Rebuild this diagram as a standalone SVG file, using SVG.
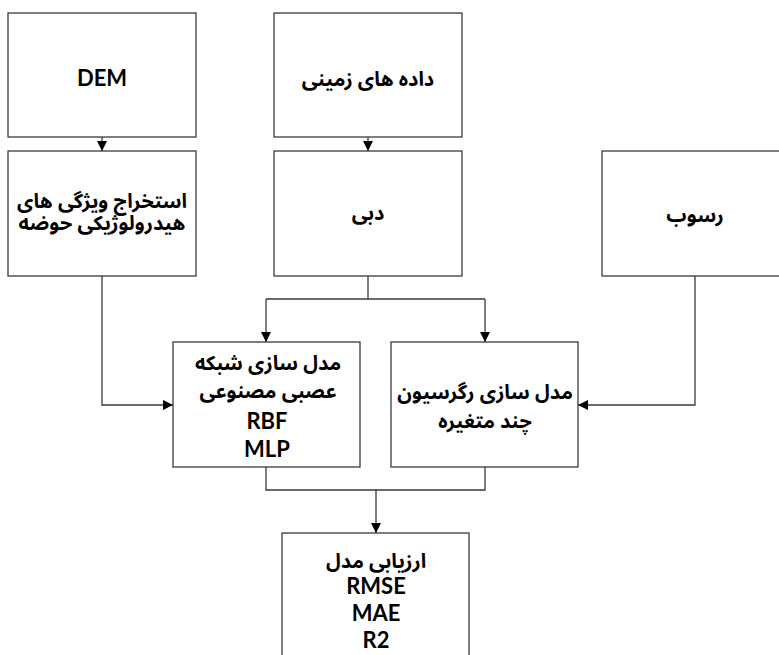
<svg xmlns="http://www.w3.org/2000/svg" width="779" height="655" viewBox="0 0 779 655">
<style>
.box{fill:#fff;stroke:#3a3a3a;stroke-width:1.3}
.ln{fill:none;stroke:#3a3a3a;stroke-width:1.3}
.fa{font-family:"Noto Sans Arabic","Noto Naskh Arabic","DejaVu Sans",sans-serif;font-weight:bold;font-size:20px;fill:#000;text-anchor:middle;dominant-baseline:central}
.en{font-family:Lato,"Open Sans",sans-serif;font-weight:bold;font-size:22px;fill:#000;text-anchor:middle;dominant-baseline:central}
</style>
<defs>
<marker id="ah" viewBox="0 0 10 10" refX="10" refY="5" markerWidth="10" markerHeight="10" markerUnits="userSpaceOnUse" orient="auto">
<path d="M0,0 L10,5 L0,10 z" fill="#000"/>
</marker>
</defs>
<g id="connectors">
<line class="ln" x1="102" y1="137" x2="102" y2="151" marker-end="url(#ah)"/>
<line class="ln" x1="368" y1="137" x2="368" y2="151" marker-end="url(#ah)"/>
<polyline class="ln" points="368,276 368,299"/>
<line class="ln" x1="266" y1="299" x2="485" y2="299"/>
<line class="ln" x1="266" y1="299" x2="266" y2="342" marker-end="url(#ah)"/>
<line class="ln" x1="485" y1="299" x2="485" y2="342" marker-end="url(#ah)"/>
<polyline class="ln" points="102,276 102,405 173,405" marker-end="url(#ah)"/>
<polyline class="ln" points="695,276 695,405 578,405" marker-end="url(#ah)"/>
<polyline class="ln" points="266,467 266,490 485,490 485,467"/>
<line class="ln" x1="376" y1="490" x2="376" y2="533" marker-end="url(#ah)"/>
</g>
<g id="dem"><rect class="box" x="8" y="13" width="188" height="124"/><text class="en" x="102" y="77">DEM</text></g>
<g id="ground"><rect class="box" x="274" y="13" width="188" height="124"/><text class="fa" x="368" y="80">داده های زمینی</text></g>
<g id="extract"><rect class="box" x="8" y="151" width="188" height="125"/><text class="fa" x="102" y="202">استخراج ویژگی های</text><text class="fa" x="102" y="224">هیدرولوژیکی حوضه</text></g>
<g id="discharge"><rect class="box" x="274" y="151" width="188" height="125"/><text class="fa" x="368" y="214">دبی</text></g>
<g id="sediment"><rect class="box" x="602" y="151" width="190" height="125"/><text class="fa" x="695" y="216">رسوب</text></g>
<g id="ann"><rect class="box" x="173" y="342" width="187" height="125"/><text class="fa" x="268" y="364">مدل سازی شبکه</text><text class="fa" x="268" y="392">عصبی مصنوعی</text><text class="en" x="267" y="420">RBF</text><text class="en" x="267" y="448">MLP</text></g>
<g id="regression"><rect class="box" x="391" y="342" width="187" height="125"/><text class="fa" x="485" y="393">مدل سازی رگرسیون</text><text class="fa" x="485" y="422">چند متغیره</text></g>
<g id="eval"><rect class="box" x="282" y="533" width="187" height="130"/><text class="fa" x="376" y="562">ارزیابی مدل</text><text class="en" x="376" y="585">RMSE</text><text class="en" x="376" y="612">MAE</text><text class="en" x="376" y="639">R2</text></g>
</svg>
